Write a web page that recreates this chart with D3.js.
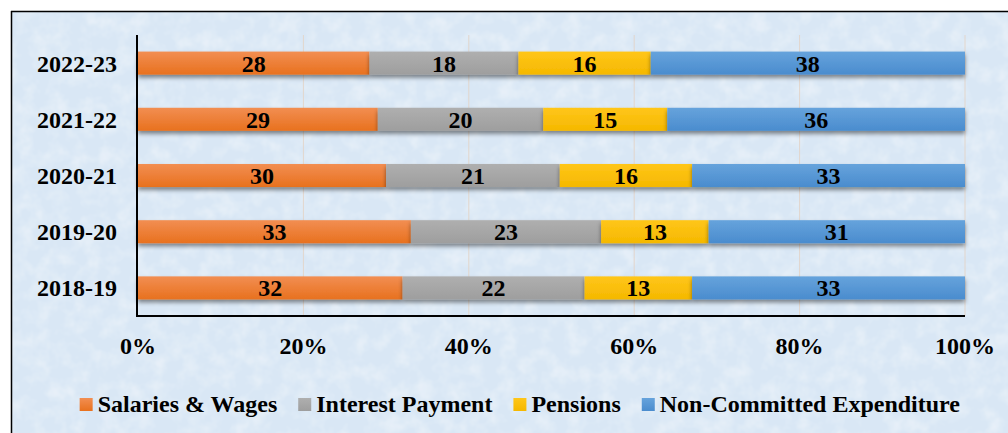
<!DOCTYPE html>
<html>
<head>
<meta charset="utf-8">
<script src="https://cdn.jsdelivr.net/npm/d3@7"></script>
<style>
  body { margin: 0; background: #fff; }
  svg { display: block; }
  text { font-family: "Liberation Serif", "Times New Roman", Times, serif; font-weight: bold; fill: #000; }
</style>
</head>
<body>
<div id="chart"></div>
<script>
// data
var years = ["2022-23", "2021-22", "2020-21", "2019-20", "2018-19"];
var seriesNames = ["Salaries & Wages", "Interest Payment", "Pensions", "Non-Committed Expenditure"];
var salaries = [28, 29, 30, 33, 32];
var interest = [18, 20, 21, 23, 22];
var pensions = [16, 15, 16, 13, 13];
var nonCommitted = [38, 36, 33, 31, 33];
var ticks = [0, 20, 40, 60, 80, 100];

var colors = [
    { top: "#f28e52", bottom: "#e8711e" },
    { top: "#afafaf", bottom: "#9e9e9e" },
    { top: "#ffc619", bottom: "#f5b800" },
    { top: "#66a3dc", bottom: "#4a8cce" }
];

var width = 1008, height = 433;
var plotLeft = 138, plotRight = 965, plotTop = 35, plotBottom = 316;

var svg = d3.select("#chart").append("svg")
    .attr("width", width)
    .attr("height", height);

var defs = svg.append("defs");

// mottled background
var tex = defs.append("filter").attr("id", "tex")
    .attr("x", 0).attr("y", 0).attr("width", 1).attr("height", 1);
tex.append("feTurbulence")
    .attr("type", "fractalNoise")
    .attr("baseFrequency", "0.06")
    .attr("numOctaves", 3)
    .attr("seed", 7)
    .attr("result", "noise");
tex.append("feColorMatrix")
    .attr("in", "noise")
    .attr("type", "matrix")
    .attr("values", "0 0 0 0 1  0 0 0 0 1  0 0 0 0 1  0 0 0 0.7 -0.28")
    .attr("result", "spots");
tex.append("feComposite").attr("in", "spots").attr("in2", "SourceGraphic").attr("operator", "in").attr("result", "sp");
tex.append("feMerge").selectAll("feMergeNode")
    .data(["SourceGraphic", "sp"]).join("feMergeNode").attr("in", function(d) { return d; });

var shadow = defs.append("filter").attr("id", "shadow")
    .attr("x", "-5%").attr("y", "-30%").attr("width", "110%").attr("height", "180%");
shadow.append("feDropShadow")
    .attr("dx", 0).attr("dy", 3)
    .attr("stdDeviation", 2)
    .attr("flood-color", "#000")
    .attr("flood-opacity", 0.45);

colors.forEach(function(c, i) {
    var g = defs.append("linearGradient").attr("id", "grad" + i)
        .attr("x1", 0).attr("y1", 0).attr("x2", 0).attr("y2", 1);
    g.append("stop").attr("offset", "0%").attr("stop-color", c.top);
    g.append("stop").attr("offset", "100%").attr("stop-color", c.bottom);
});

// frame
svg.append("rect")
    .attr("x", 11).attr("y", 11)
    .attr("width", 1040).attr("height", 460)
    .attr("fill", "#d9e7f5")
    .attr("filter", "url(#tex)");
svg.append("line").attr("x1", 11).attr("x2", width).attr("y1", 11.5).attr("y2", 11.5)
    .attr("stroke", "#000").attr("stroke-width", 1.5);
svg.append("line").attr("x1", 11.5).attr("x2", 11.5).attr("y1", 11).attr("y2", height)
    .attr("stroke", "#000").attr("stroke-width", 1.5);

var x = d3.scaleLinear().domain([0, 100]).range([plotLeft, plotRight]);
var y = d3.scaleBand().domain(years).range([plotTop, plotBottom])
    .paddingInner(0.59).paddingOuter(0.295);

// gridlines
svg.append("g").selectAll("line")
    .data(ticks.slice(1))
    .join("line")
    .attr("x1", function(d) { return x(d); })
    .attr("x2", function(d) { return x(d); })
    .attr("y1", plotTop).attr("y2", plotBottom)
    .attr("stroke", "#e2d6cc")
    .attr("stroke-width", 1);

var rows = years.map(function(yr, i) {
    return { year: yr, values: [salaries[i], interest[i], pensions[i], nonCommitted[i]] };
});
var stack = d3.stack().keys([0, 1, 2, 3]).value(function(d, k) { return d.values[k]; });
var layers = stack(rows);

var barG = svg.append("g");
layers.forEach(function(layer, k) {
    barG.append("g")
        .attr("filter", "url(#shadow)")
        .selectAll("rect")
        .data(layer)
        .join("rect")
        .attr("x", function(d) { return x(d[0]); })
        .attr("width", function(d) { return x(d[1]) - x(d[0]); })
        .attr("y", function(d) { return y(d.data.year); })
        .attr("height", y.bandwidth())
        .attr("fill", "url(#grad" + k + ")");
});

layers.forEach(function(layer, k) {
    svg.append("g").selectAll("text")
        .data(layer)
        .join("text")
        .attr("x", function(d) { return (x(d[0]) + x(d[1])) / 2; })
        .attr("y", function(d) { return y(d.data.year) + y.bandwidth() / 2; })
        .attr("dy", "0.35em")
        .attr("text-anchor", "middle")
        .style("font-size", "24px")
        .text(function(d) { return d.data.values[k]; });
});

// axes lines
svg.append("line")
    .attr("x1", plotLeft - 1).attr("x2", plotLeft - 1)
    .attr("y1", plotTop).attr("y2", plotBottom + 1)
    .attr("stroke", "#000").attr("stroke-width", 2);
svg.append("line")
    .attr("x1", plotLeft - 2).attr("x2", plotRight)
    .attr("y1", plotBottom).attr("y2", plotBottom)
    .attr("stroke", "#000").attr("stroke-width", 2);

// y labels
svg.append("g").selectAll("text")
    .data(years)
    .join("text")
    .attr("x", 117)
    .attr("y", function(d) { return y(d) + y.bandwidth() / 2; })
    .attr("dy", "0.35em")
    .attr("text-anchor", "end")
    .style("font-size", "24px")
    .text(function(d) { return d; });

// x tick labels
svg.append("g").selectAll("text")
    .data(ticks)
    .join("text")
    .attr("x", function(d) { return x(d); })
    .attr("y", 346)
    .attr("dy", "0.35em")
    .attr("text-anchor", "middle")
    .style("font-size", "24px")
    .text(function(d) { return d + "%"; });

// legend
var legend = svg.append("g");
var items = legend.selectAll("g")
    .data(seriesNames)
    .join("g");
items.append("rect")
    .attr("width", 13).attr("height", 13)
    .attr("y", -6)
    .attr("fill", function(d, i) { return "url(#grad" + i + ")"; });
items.append("text")
    .attr("x", 18)
    .attr("dy", "0.35em")
    .style("font-size", "24px")
    .text(function(d) { return d; });
var pos = 0;
items.each(function() {
    var w = this.getBBox().width;
    this.__x = pos;
    pos += w + 21;
});
pos -= 21;
var startX = 520 - pos / 2;
items.attr("transform", function() { return "translate(" + (startX + this.__x) + ",404)"; });
</script>
</body>
</html>
